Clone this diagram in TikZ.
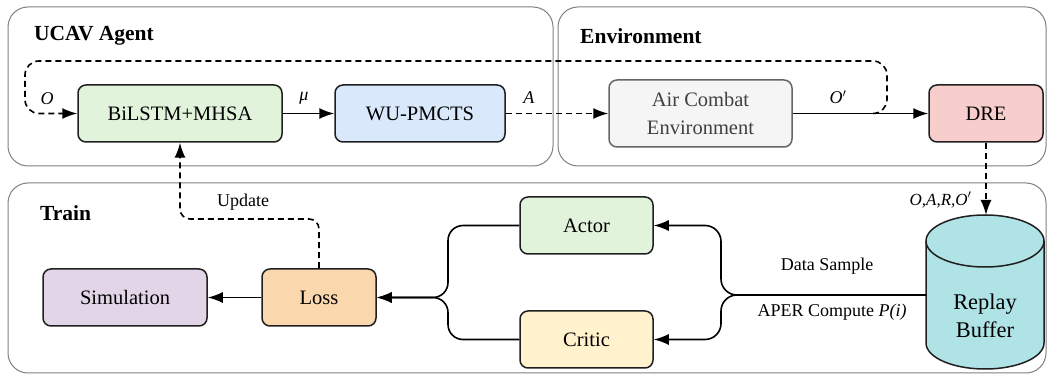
\documentclass[tikz,border=0pt]{standalone}
\usepackage{fontspec}
\setmainfont{Liberation Serif}
\usetikzlibrary{arrows.meta}
\definecolor{cgreen}{HTML}{E2F3DC}
\definecolor{cblue}{HTML}{DAE8FC}
\definecolor{cgray}{HTML}{F5F5F5}
\definecolor{cred}{HTML}{F8CECC}
\definecolor{cpurple}{HTML}{E1D5E7}
\definecolor{corange}{HTML}{FAD7AC}
\definecolor{cyellow}{HTML}{FFF2CC}
\definecolor{cteal}{HTML}{B0E3E6}
\definecolor{pline}{HTML}{808080}
\begin{document}
\begin{tikzpicture}[x=1pt,y=1pt,
  panel/.style={draw=pline, line width=1pt, rounded corners=20pt},
  box/.style={draw=black!88, line width=1.5pt, rounded corners=8pt, minimum height=57pt,
    font=\fontsize{20.5}{28}\selectfont, align=center, inner sep=0pt},
  arr/.style={line width=1.6pt, -{Latex[length=15pt,width=11pt]}},
  dsh/.style={dash pattern=on 6pt off 4pt},
  lbl/.style={font=\fontsize{18}{21}\selectfont},
  title/.style={font=\fontsize{21.5}{25}\selectfont\bfseries, anchor=west, inner sep=0pt}]
\useasboundingbox (0,0) rectangle (1050,375);
% panels
\draw[panel] (8,209) rectangle (553,368);
\draw[panel] (558,209) rectangle (1046,368);
\draw[panel] (8,2) rectangle (1046,192);
\node[title] (tu) at (34,339) {UCAV Agent};
\node[title] (te) at (580,339) {Environment};
\node[title] (tt) at (40,162) {Train};
% boxes
\node[box, fill=cgreen, minimum width=204pt] (bil) at (180,261.5) {BiLSTM+MHSA};
\node[box, fill=cblue, minimum width=170pt] (wu) at (420,261.5) {WU-PMCTS};
\node[box, fill=cgray, draw=black!60, text=black!75, minimum width=183pt, minimum height=67pt] (air) at (700.5,261.5) {Air Combat\\Environment};
\node[box, fill=cred, minimum width=114pt] (dre) at (986,261.5) {DRE};
\node[box, fill=cgreen, minimum width=133pt] (actor) at (586.5,149.5) {Actor};
\node[box, fill=cyellow, minimum width=133pt] (critic) at (586.5,35.5) {Critic};
\node[box, fill=corange, minimum width=114pt] (loss) at (319,77.5) {Loss};
\node[box, fill=cpurple, minimum width=164pt] (sim) at (125,77.5) {Simulation};
% cylinder
\fill[cteal] (926,134) -- (926,32) arc[start angle=180, end angle=360, x radius=59pt, y radius=26pt]
  -- (1044,134) arc[start angle=0, end angle=180, x radius=59pt, y radius=26pt] -- cycle;
\draw[line width=1.5pt, black!88] (926,134) -- (926,32) arc[start angle=180, end angle=360, x radius=59pt, y radius=26pt] -- (1044,134);
\draw[line width=1.5pt, black!88] (985,134) ellipse [x radius=59pt, y radius=26pt];
\node[font=\fontsize{22.4}{28}\selectfont, align=center, inner sep=0pt] (rb) at (985,59) {Replay\\Buffer};
\coordinate (rbtop) at (986,160);
\coordinate (rbleft) at (926,80);
% connectors upper
\draw[arr] (bil) -- (wu);
\draw[arr, dsh] (wu) -- (air);
\draw[arr] (air) -- (dre);
\draw[arr, dsh, rounded corners=14pt] (873,261.5) -- (887,261.5) -- (887,314) -- (25,314) -- (25,261.5) -- (bil.west);
\node[lbl] (lo) at (47,276) {\textit{O}};
\node[lbl] (lmu) at (304,277) {\textit{μ}};
\node[lbl] (la) at (529,277) {\textit{A}};
\node[lbl] (lop) at (838,278) {\textit{O}$'$};
% DRE to buffer
\draw[arr, dsh] (dre.south) -- (rbtop);
\node[font=\fontsize{17}{20}\selectfont, anchor=east] (loar) at (975,175) {\textit{O,A,R,O}$'$};
% update
\draw[arr, dsh, rounded corners=10pt] (loss.north) -- (319,156) -- (180,156) -- (bil.south);
\node[lbl] (lup) at (243,173) {Update};
% lower brackets
\draw[arr, rounded corners=15pt] (actor.west) -- (448,149.5) -- (448,77.5) -- (loss.east);
\draw[arr, rounded corners=15pt] (critic.west) -- (448,35.5) -- (448,77.5) -- (loss.east);
\draw[arr] (loss.west) -- (sim.east);
\draw[arr, rounded corners=16pt] (rbleft) -- (721,80) -- (721,149.5) -- (actor.east);
\draw[arr, rounded corners=16pt] (rbleft) -- (721,80) -- (721,35.5) -- (critic.east);
\node[lbl] (lds) at (827,109) {Data Sample};
\node[lbl] (lap) at (832,63) {APER Compute \textit{P(i)}};
\end{tikzpicture}
\end{document}
